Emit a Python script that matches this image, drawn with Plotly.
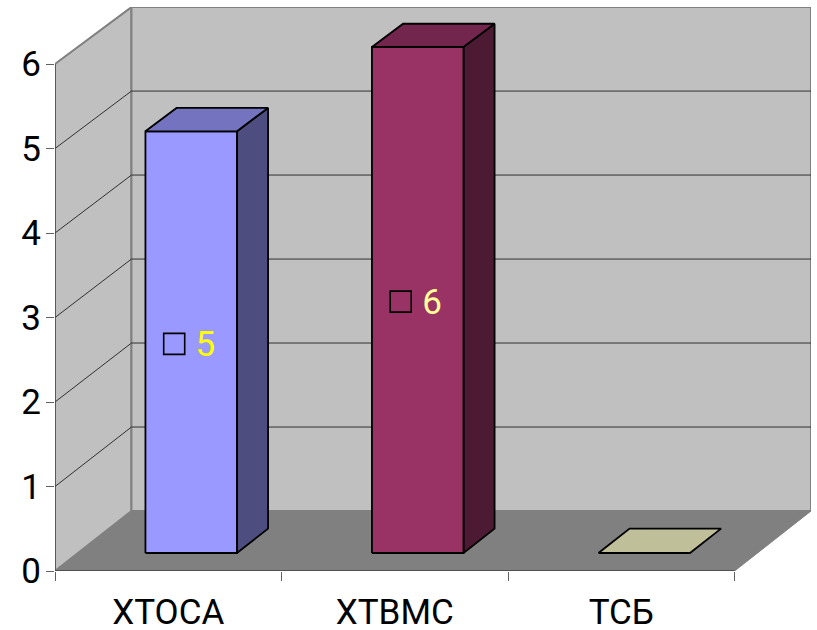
import plotly.graph_objects as go

# Data
categories = ["ХТОСА", "ХТВМС", "ТСБ"]
values = [5, 6, 0]
value_labels = ["5", "6", None]
label_colors = ["#ffff00", "#ffff99", None]
front_colors = ["#9999ff", "#993366", "#ffffcc"]
top_colors = ["#7373bf", "#73264d", "#bfbf99"]
side_colors = ["#4d4d80", "#4d1a33", "#80804d"]
value_ticks = [0, 1, 2, 3, 4, 5, 6]

# Oblique projection: depth 0 is the front edge of the floor, depth 1 the back wall
SHEAR_X = 0.3375
SHEAR_Y = 0.71
SHRINK = 0.006
BAR_WIDTH = 0.404
BAR_GAP = (1 - BAR_WIDTH) / 2
BAR_NEAR = 0.30
BAR_FAR = 0.707
N = len(categories)
Y_MAX = 6.675
WALL_TOP = 6
FONT = "Roboto"
TEXT_DROP = 0.06  # nudges the number onto the centre line of its key


def project(x, v, d):
    return x + d * SHEAR_X, v * (1 - SHRINK * d) + d * SHEAR_Y


def polygon(corners, fill, line_color, line_width):
    pts = [project(*c) for c in corners]
    pts.append(pts[0])
    return go.Scatter(
        x=[p[0] for p in pts], y=[p[1] for p in pts], mode="lines", fill="toself",
        fillcolor=fill, line=dict(color=line_color, width=line_width),
        hoverinfo="skip", showlegend=False, cliponaxis=False,
    )


def segments(paths, color, width):
    xs, ys = [], []
    for path in paths:
        for c in path:
            px, py = project(*c)
            xs.append(px)
            ys.append(py)
        xs.append(None)
        ys.append(None)
    return go.Scatter(
        x=xs, y=ys, mode="lines", line=dict(color=color, width=width),
        hoverinfo="skip", showlegend=False, cliponaxis=False,
    )


fig = go.Figure()

# Walls and floor
fig.add_trace(polygon([(0, 0, 0), (0, 0, 1), (0, WALL_TOP, 1), (0, WALL_TOP, 0)], "#c0c0c0", "#808080", 2))
fig.add_trace(polygon([(0, 0, 1), (N, 0, 1), (N, WALL_TOP, 1), (0, WALL_TOP, 1)], "#c0c0c0", "#808080", 2))
fig.add_trace(polygon([(0, 0, 0), (N, 0, 0), (N, 0, 1), (0, 0, 1)], "#808080", "#808080", 1))

# Gridlines running along the side wall and across the back wall
fig.add_trace(segments(
    [[(0, v, 0), (0, v, 1), (N, v, 1)] for v in value_ticks[1:-1]], "#303030", 1))

# Front axis lines
fig.add_trace(segments([[(0, 0, 0), (0, WALL_TOP, 0)]], "#404040", 1.2))
fig.add_trace(segments([[(0, 0, 0), (N, 0, 0)]], "#202020", 1.2))

# Bars: hidden faces are never drawn, so the three visible ones are enough
for i, v in enumerate(values):
    x0, x1 = i + BAR_GAP, i + BAR_GAP + BAR_WIDTH
    near, far = BAR_NEAR, BAR_FAR
    if v > 0:
        fig.add_trace(polygon([(x1, 0, near), (x1, 0, far), (x1, v, far), (x1, v, near)],
                              side_colors[i], "#000000", 1.8))
        fig.add_trace(polygon([(x0, 0, near), (x1, 0, near), (x1, v, near), (x0, v, near)],
                              front_colors[i], "#000000", 1.8))
    fig.add_trace(polygon([(x0, v, near), (x1, v, near), (x1, v, far), (x0, v, far)],
                          top_colors[i], "#000000", 1.8))

# Value labels: a small legend key followed by the number
for i, v in enumerate(values):
    if value_labels[i] is None:
        continue
    kx, ky = project(i + BAR_GAP + 0.127, v / 2, BAR_NEAR)
    fig.add_trace(go.Scatter(
        x=[kx], y=[ky - 0.02], mode="markers",
        marker=dict(symbol="square", size=21, color=front_colors[i],
                    line=dict(color="#000000", width=1.6)),
        hoverinfo="skip", showlegend=False, cliponaxis=False,
    ))
    tx, ty = project(i + BAR_GAP + 0.265, v / 2, BAR_NEAR)
    fig.add_trace(go.Scatter(
        x=[tx], y=[ty - TEXT_DROP], mode="text", text=[value_labels[i]],
        textposition="middle center",
        textfont=dict(family=FONT, size=35, color=label_colors[i]),
        hoverinfo="skip", showlegend=False, cliponaxis=False,
    ))

fig.update_layout(
    width=817, height=630, autosize=False,
    margin=dict(l=55, r=6, t=7, b=59, pad=0),
    paper_bgcolor="#ffffff", plot_bgcolor="#ffffff",
    showlegend=False,
    font=dict(family=FONT, size=35, color="#000000"),
    xaxis=dict(
        range=[0, N + SHEAR_X], showgrid=False, zeroline=False, showline=False,
        automargin=False,
        tickmode="array", tickvals=[i + 0.5 for i in range(N)], ticktext=categories,
        ticks="", ticklabelstandoff=17,
        tickfont=dict(family=FONT, size=35, color="#000000"),
        minor=dict(tickmode="array", tickvals=list(range(N + 1)), ticks="outside",
                   ticklen=9, tickwidth=1, tickcolor="#606060", showgrid=False),
    ),
    yaxis=dict(
        range=[0, Y_MAX], showgrid=False, zeroline=False, showline=False,
        automargin=False,
        tickmode="array", tickvals=value_ticks, ticktext=[str(t) for t in value_ticks],
        ticks="outside", ticklen=8, tickwidth=1, tickcolor="#606060",
        ticklabelstandoff=-2,
        tickfont=dict(family=FONT, size=35, color="#000000"),
    ),
)

fig.write_html("out.html", config={"displayModeBar": False})
